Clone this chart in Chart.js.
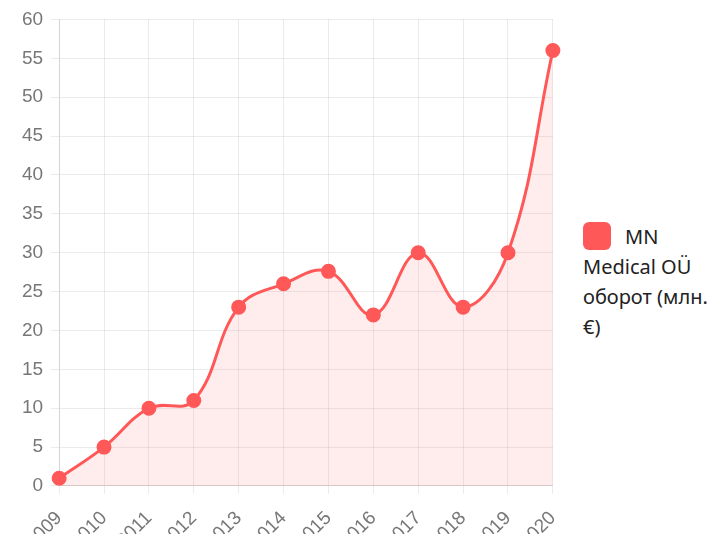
<!DOCTYPE html>
<html>
<head>
<meta charset="utf-8">
<script src="https://cdn.jsdelivr.net/npm/chart.js@4"></script>
<style>
  body { margin: 0; background: #fff; overflow: hidden; }
  #wrap { position: relative; width: 725px; height: 534px; overflow: hidden; }
  #chartBox { position: absolute; left: 0; top: 0; width: 572px; height: 566px; }
  #legend { position: absolute; left: 583px; top: 222px; width: 138px;
    font-family: "Noto Sans", "Open Sans", sans-serif; font-size: 20px; line-height: 30px; color: #222; }
  #legend .box { display: inline-block; width: 28px; height: 28px; border-radius: 6px;
    vertical-align: -6px; margin-right: 14px; }
</style>
</head>
<body>
<div id="wrap">
  <div id="chartBox"><canvas id="lineChart" width="572" height="566"></canvas></div>
  <div id="legend"></div>
</div>
<script>
// Data
let years = ["2009", "2010", "2011", "2012", "2013", "2014", "2015", "2016", "2017", "2018", "2019", "2020"];
let turnover = [1, 5, 10, 11, 23, 26, 27.6, 22, 30, 23, 30, 56];
let seriesName = "MN Medical OÜ оборот (млн. €)";

let mainColor = "rgb(255, 88, 88)";

// canvas is a bit taller than the page so the year labels get cut at the bottom, like the original
let chart = new Chart(document.getElementById("lineChart"), {
  type: "line",
  data: {
    labels: years,
    datasets: [
      {
        label: seriesName,
        data: turnover,
        borderColor: mainColor,
        backgroundColor: "rgba(255, 88, 88, 0.11)",
        pointBackgroundColor: mainColor,
        pointBorderColor: mainColor,
        pointRadius: 6,
        borderWidth: 3,
        tension: 0.4,
        fill: true,
      },
    ],
  },
  options: {
    responsive: false,
    maintainAspectRatio: false,
    animation: false,
    layout: { padding: { top: 19, left: 14, right: 6 } },
    plugins: { legend: { display: false } },
    scales: {
      x: {
        grid: { color: "rgba(0,0,0,0.08)" },
        ticks: {
          color: "#777",
          padding: 13,
          font: { family: "Liberation Sans", size: 19 },
          minRotation: 45,
          maxRotation: 45,
        },
        // the extra tick padding should not shrink the plot on the right
        afterFit: (scale) => {
          scale.paddingRight -= 10;
        },
      },
      y: {
        min: 0,
        max: 60,
        grid: { color: "rgba(0,0,0,0.08)" },
        ticks: {
          stepSize: 5,
          autoSkip: false,
          color: "#777",
          padding: 8,
          font: { family: "Liberation Sans", size: 19 },
        },
      },
    },
  },
});

// HTML legend (wraps like the original)
let ds = chart.data.datasets[0];
document.getElementById("legend").innerHTML =
  `<span class="box" style="background:${ds.borderColor}"></span>${ds.label}`;
</script>
</body>
</html>
